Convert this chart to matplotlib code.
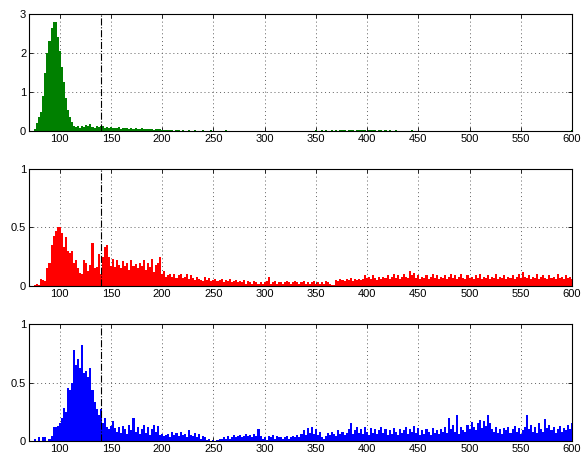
import numpy as np
import matplotlib.pyplot as plt

# bin edges (width 2) from 75 to 601
edges = np.arange(75, 602, 2)

green_vals = [
    0.05, 0.2, 0.35, 0.5, 0.9, 1.5, 2.0, 2.3, 2.65, 2.8,
    2.8, 2.4, 2.05, 1.65, 1.25, 0.85, 0.55, 0.35, 0.22, 0.13,
    0.1, 0.14, 0.08, 0.12, 0.1, 0.15, 0.12, 0.17, 0.1, 0.08,
    0.12, 0.1, 0.14, 0.12, 0.09, 0.11, 0.08, 0.1, 0.07, 0.09,
    0.08, 0.1, 0.06, 0.09, 0.07, 0.08, 0.06, 0.07, 0.05, 0.08,
    0.06, 0.05, 0.07, 0.04, 0.06, 0.05, 0.04, 0.06, 0.03, 0.05,
    0.04, 0.06, 0.03, 0.02, 0.03, 0.02, 0.02, 0.03, 0.01, 0.02,
    0.02, 0.01, 0.02, 0.01, 0.01, 0.02, 0.01, 0.01, 0.02, 0.01,
    0.01, 0.01, 0.02, 0.01, 0.01, 0.01, 0.02, 0.01, 0.01, 0.01,
    0.01, 0.01, 0.01, 0.02, 0.01, 0.01, 0.01, 0.01, 0.01, 0.01,
    0.01, 0.01, 0.01, 0.01, 0.01, 0.01, 0.01, 0.01, 0.01, 0.01,
    0.01, 0.01, 0.01, 0.01, 0.01, 0.01, 0.01, 0.01, 0.01, 0.01,
    0.01, 0.01, 0.01, 0.01, 0.01, 0.01, 0.01, 0.01, 0.01, 0.01,
    0.01, 0.01, 0.01, 0.01, 0.01, 0.01, 0.01, 0.02, 0.01, 0.01,
    0.02, 0.01, 0.02, 0.01, 0.01, 0.02, 0.01, 0.02, 0.01, 0.02,
    0.02, 0.03, 0.01, 0.02, 0.03, 0.02, 0.01, 0.02, 0.03, 0.02,
    0.03, 0.02, 0.01, 0.03, 0.02, 0.02, 0.03, 0.01, 0.02, 0.02,
    0.01, 0.02, 0.01, 0.02, 0.01, 0.01, 0.02, 0.01, 0.01, 0.01,
    0.01, 0.01, 0.01, 0.01, 0.02, 0.01, 0.01, 0.01, 0.01, 0.01,
    0.01, 0.01, 0.01, 0.01, 0.01, 0.01, 0.01, 0.01, 0.01, 0.01,
    0.01, 0.01, 0.01, 0.01, 0.01, 0.01, 0.01, 0.01, 0.01, 0.01,
    0.01, 0.01, 0.01, 0.01, 0.01, 0.01, 0.01, 0.01, 0.01, 0.01,
    0.01, 0.01, 0.01, 0.01, 0.01, 0.01, 0.01, 0.01, 0.01, 0.01,
    0.01, 0.01, 0.01, 0.01, 0.01, 0.01, 0.01, 0.01, 0.01, 0.01,
    0.01, 0.01, 0.01, 0.01, 0.01, 0.01, 0.01, 0.01, 0.01, 0.01,
    0.01, 0.01, 0.01, 0.01, 0.01, 0.01, 0.01, 0.01, 0.01, 0.01,
    0.01, 0.01, 0.02,
]

red_vals = [
    0.01, 0.02, 0.01, 0.06, 0.05, 0.04, 0.15, 0.2, 0.35, 0.43,
    0.47, 0.5, 0.5, 0.45, 0.33, 0.42, 0.3, 0.28, 0.3, 0.2,
    0.22, 0.15, 0.11, 0.1, 0.22, 0.2, 0.13, 0.18, 0.37, 0.15,
    0.16, 0.27, 0.1, 0.25, 0.33, 0.35, 0.25, 0.17, 0.23, 0.16,
    0.22, 0.18, 0.15, 0.21, 0.17, 0.2, 0.14, 0.22, 0.17, 0.19,
    0.15, 0.2, 0.17, 0.22, 0.14, 0.2, 0.16, 0.23, 0.12, 0.18,
    0.2, 0.25, 0.1, 0.13, 0.08, 0.09, 0.1, 0.08, 0.1, 0.07,
    0.09, 0.1, 0.07, 0.08, 0.1, 0.06, 0.09, 0.07, 0.05, 0.08,
    0.06, 0.05, 0.04, 0.08, 0.05, 0.07, 0.04, 0.05, 0.06, 0.04,
    0.05, 0.06, 0.03, 0.05, 0.04, 0.06, 0.03, 0.04, 0.05, 0.03,
    0.04, 0.03, 0.05, 0.02, 0.04, 0.03, 0.02, 0.04, 0.03, 0.02,
    0.03, 0.02, 0.03, 0.04, 0.08, 0.02, 0.03, 0.04, 0.02, 0.03,
    0.03, 0.02, 0.03, 0.04, 0.03, 0.02, 0.03, 0.04, 0.03, 0.02,
    0.03, 0.04, 0.02, 0.03, 0.02, 0.03, 0.04, 0.02, 0.03, 0.02,
    0.03, 0.02, 0.04, 0.03, 0.02, 0.01, 0.01, 0.05, 0.04, 0.06,
    0.05, 0.04, 0.06, 0.05, 0.07, 0.04, 0.06, 0.05, 0.06, 0.05,
    0.06, 0.09, 0.07, 0.08, 0.06, 0.09, 0.07, 0.05, 0.08, 0.06,
    0.08, 0.07, 0.09, 0.06, 0.08, 0.1, 0.07, 0.09, 0.06, 0.08,
    0.1, 0.08, 0.07, 0.13, 0.09, 0.11, 0.07, 0.09, 0.06, 0.08,
    0.07, 0.09, 0.06, 0.08, 0.1, 0.07, 0.09, 0.06, 0.08, 0.07,
    0.09, 0.06, 0.08, 0.1, 0.07, 0.09, 0.06, 0.08, 0.1, 0.07,
    0.06, 0.09, 0.07, 0.08, 0.06, 0.09, 0.07, 0.1, 0.06, 0.08,
    0.07, 0.09, 0.06, 0.08, 0.07, 0.1, 0.06, 0.08, 0.07, 0.09,
    0.06, 0.08, 0.07, 0.09, 0.06, 0.08, 0.1, 0.07, 0.12, 0.08,
    0.07, 0.09, 0.06, 0.08, 0.07, 0.1, 0.06, 0.08, 0.09, 0.07,
    0.06, 0.09, 0.07, 0.08, 0.06, 0.1, 0.07, 0.08, 0.06, 0.09,
    0.07, 0.08, 0.06,
]

blue_vals = [
    0.02, 0.0, 0.03, 0.0, 0.03, 0.03, 0.0, 0.02, 0.04, 0.12,
    0.12, 0.13, 0.15, 0.2, 0.28, 0.25, 0.45, 0.44, 0.5, 0.78,
    0.65, 0.7, 0.62, 0.82, 0.58, 0.6, 0.55, 0.62, 0.44, 0.33,
    0.27, 0.22, 0.27, 0.15, 0.2, 0.12, 0.1, 0.13, 0.17, 0.11,
    0.08, 0.12, 0.07, 0.13, 0.1, 0.06, 0.14, 0.09, 0.2, 0.08,
    0.12, 0.06, 0.1, 0.14, 0.07, 0.12, 0.05, 0.1, 0.14, 0.08,
    0.13, 0.05, 0.06, 0.04, 0.05, 0.06, 0.03, 0.08, 0.05, 0.07,
    0.04, 0.08, 0.05, 0.06, 0.03, 0.09, 0.05, 0.04, 0.07, 0.03,
    0.06, 0.02, 0.04, 0.03, 0.01, 0.02, 0.0, 0.01, 0.0, 0.01,
    0.02, 0.02, 0.03, 0.02, 0.04, 0.02, 0.03, 0.05, 0.03, 0.04,
    0.05, 0.03, 0.04, 0.06, 0.04, 0.05, 0.03, 0.06, 0.04, 0.1,
    0.04, 0.02, 0.03, 0.01, 0.04, 0.03, 0.05, 0.02, 0.04, 0.03,
    0.03, 0.02, 0.03, 0.04, 0.02, 0.03, 0.04, 0.03, 0.05, 0.03,
    0.06, 0.09, 0.05, 0.11, 0.07, 0.12, 0.06, 0.1, 0.05, 0.08,
    0.03, 0.02, 0.04, 0.07, 0.05, 0.08, 0.06, 0.04, 0.09, 0.06,
    0.08, 0.05, 0.07, 0.1, 0.15, 0.06, 0.09, 0.12, 0.07, 0.1,
    0.06, 0.12, 0.08, 0.05, 0.11, 0.07, 0.1, 0.06, 0.09, 0.12,
    0.07, 0.1, 0.05, 0.09, 0.06, 0.11, 0.08, 0.05, 0.1, 0.07,
    0.09, 0.12, 0.06, 0.1, 0.08, 0.13, 0.07, 0.11, 0.05, 0.09,
    0.06, 0.1, 0.08, 0.05, 0.11, 0.07, 0.09, 0.06, 0.1, 0.08,
    0.12, 0.07, 0.2, 0.1, 0.14, 0.08, 0.22, 0.06, 0.12, 0.09,
    0.08, 0.14, 0.1, 0.16, 0.12, 0.09, 0.15, 0.18, 0.11, 0.17,
    0.13, 0.22, 0.15, 0.1, 0.08, 0.12, 0.07, 0.1, 0.06, 0.11,
    0.09, 0.12, 0.07, 0.1, 0.13, 0.08, 0.11, 0.06, 0.09, 0.12,
    0.22, 0.1, 0.14, 0.08, 0.12, 0.07, 0.15, 0.1, 0.08, 0.19,
    0.11, 0.14, 0.09, 0.12, 0.07, 0.1, 0.13, 0.08, 0.11, 0.09,
    0.14, 0.1, 0.15,
]

x_ticks = [100, 150, 200, 250, 300, 350, 400, 450, 500, 550, 600]
marker_x = 140

plt.rcParams['font.family'] = ['Liberation Sans', 'DejaVu Sans']
plt.rcParams['font.size'] = 8

fig = plt.figure(figsize=(5.87, 4.57), dpi=100)

panels = [
    (green_vals, '#008000', 3, [0, 1, 2, 3], ['0', '1', '2', '3'], 0.7133),
    (red_vals, '#ff0000', 1, [0, 0.5, 1], ['0', '0.5', '1'], 0.3742),
    (blue_vals, '#0000ff', 1, [0, 0.5, 1], ['0', '0.5', '1'], 0.035),
]

for vals, col, ymax, yt, ytl, bottom in panels:
    ax = fig.add_axes([0.0494, bottom, 0.925, 0.256])
    ax.stairs(vals, edges, fill=True, color=col, linewidth=0, zorder=2)
    ax.set_xlim(70, 600)
    ax.set_ylim(0, ymax)
    ax.set_xticks(x_ticks)
    ax.set_yticks(yt)
    ax.set_yticklabels(ytl)
    ax.grid(True, linestyle=(0, (1, 3)), color='#606060', linewidth=0.7, zorder=0)
    ax.tick_params(direction='in', top=True, right=True, length=3,
                   width=0.6, pad=2, labelsize=8)
    ax.axvline(marker_x, color='black', linestyle='-.', linewidth=0.8, zorder=3)
    for s in ax.spines.values():
        s.set_linewidth(0.8)
        s.set_zorder(4)

fig.savefig('out.png', dpi=100)
